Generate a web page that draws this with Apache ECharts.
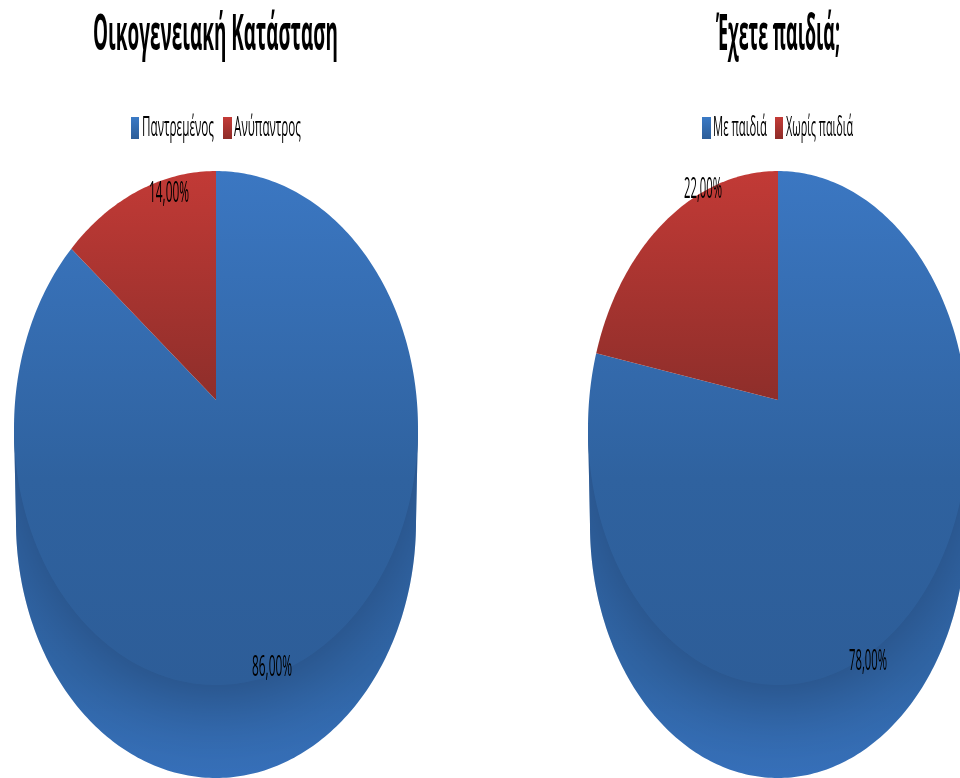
<!DOCTYPE html>
<html><head><meta charset="utf-8">
<style>html,body{margin:0;padding:0;background:#fff;overflow:hidden}#c{width:960px;height:778px}</style>
<script src="https://cdn.jsdelivr.net/npm/echarts@6/dist/echarts.min.js"></script>
</head><body><div id="c"></div>
<script>
// ---- data ----
const titles = ['Οικογενειακή Κατάσταση', 'Έχετε παιδιά;'];
const categoriesA = ['Παντρεμένος', 'Ανύπαντρος'];
const valuesA = [86, 14];
const categoriesB = ['Με παιδιά', 'Χωρίς παιδιά'];
const valuesB = [78, 22];

// ---- layout ----
const FONT = '"Open Sans"';
const layouts = [
  {cx:216, cy:428, rx:202, ry:257, apexY:400, sideCy:522, sideRx:200, sideRy:256,
   title:{x:93,w:245}, legend:[{sx:131,sw:8,tx:142,tw:72},{sx:223,sw:9,tx:234,tw:67}],
   labels:[{x:272,y:667,w:40},{x:169,y:193,w:40}]},
  {cx:778, cy:428, rx:190, ry:257, apexY:400, sideCy:525, sideRx:188, sideRy:253,
   title:{x:716,w:124}, legend:[{sx:702,sw:9,tx:713,tw:54},{sx:775,sw:8,tx:786,tw:67}],
   labels:[{x:868,y:661,w:38},{x:703,y:189,w:38}]}
];
const grad = (y0,y1,stops)=>({type:'linear',x:0,y:y0,x2:0,y2:y1,global:true,
  colorStops:stops.map(s=>({offset:s[0],color:s[1]}))});
const ctx = document.createElement('canvas').getContext('2d');
function scaleFor(text,font,w){ ctx.font=font; return w/ctx.measureText(text).width; }
function textEl(text,x,y,w,size,weight,align){
  const font=`${weight} ${size}px ${FONT}`;
  return {type:'text',x,y,scaleX:scaleFor(text,font,w),silent:true,
    style:{text,font,fill:'#000',align:align||'left',verticalAlign:'middle'}};
}
// a point on the tilted disc; the disc's centre projects to the apex
function discPoint(L,share){
  const t=share*2*Math.PI, u=Math.sin(t), v=-Math.cos(t), k=(L.apexY-L.cy)/L.ry;
  const d=1+v*k;
  return [L.cx+L.rx*u*Math.sqrt(1-k*k)/d, L.cy+L.ry*(v+k)/d];
}
function wedge(L,from,to){
  const pts=[[L.cx,L.apexY]], n=Math.max(4,Math.round((to-from)*360));
  for(let i=0;i<=n;i++) pts.push(discPoint(L,from+(to-from)*i/n));
  return pts;
}
function sidePoints(L){
  const pts=[[L.cx-L.rx,L.cy]];
  for(let i=0;i<=180;i++){
    const a=Math.PI-i*Math.PI/180;
    pts.push([L.cx+L.sideRx*Math.cos(a),L.sideCy+L.sideRy*Math.sin(a)]);
  }
  pts.push([L.cx+L.rx,L.cy]);
  return pts;
}
const BLUE=[[0,'#3b77c2'],[0.6,'#2f629f'],[1,'#2d5d98']];
const RED=[[0,'#c23a36'],[1,'#8e2e2a']];
const SIDE=[[0,'#3066a8'],[0.7,'#3168aa'],[1,'#3670ba']];

function series(idx,cats,vals){
  const L=layouts[idx];
  return {type:'custom',coordinateSystem:'none',silent:true,
    data:vals.map((v,i)=>[v,i]),
    renderItem(params,api){
      const v=api.value(0), i=api.value(1), total=vals.reduce((a,b)=>a+b,0);
      const before=vals.slice(0,i).reduce((a,b)=>a+b,0)/total, share=v/total;
      const kids=[];
      if(i===0){
        const side=sidePoints(L);
        kids.push({type:'polygon',silent:true,shape:{points:side},
          style:{fill:grad(L.cy,L.sideCy+L.sideRy,SIDE)}});
        // shadow cast by the top face on the rim
        kids.push({type:'polygon',silent:true,shape:{points:wedge(L,0,1)},
          clipPath:{type:'polygon',shape:{points:side}},
          style:{fill:'#2c5a92',shadowColor:'rgba(36,72,120,1)',shadowBlur:85,shadowOffsetY:8}});
      }
      kids.push({type:'polygon',silent:true,shape:{points:wedge(L,i===0?0:before,i===0?share:before+share)},
        style:{fill:i===0?grad(L.cy-L.ry,L.cy+L.ry,BLUE):grad(L.cy-L.ry,L.apexY,RED)}});
      return {type:'group',children:kids};
    },
    z:2};
}
function labelSeries(idx,vals){
  const L=layouts[idx];
  return {type:'custom',coordinateSystem:'none',silent:true,z:5,
    data:vals.map((v,i)=>[v,i]),
    renderItem(params,api){
      const v=api.value(0), p=L.labels[api.value(1)];
      return textEl(v.toFixed(2).replace('.',',')+'%',p.x,p.y,p.w,30,'normal','center');
    }};
}
const graphicEls=[];
[[categoriesA],[categoriesB]].forEach((c,idx)=>{
  const L=layouts[idx];
  graphicEls.push(textEl(titles[idx],L.title.x,36,L.title.w,50,'bold','left'));
  c[0].forEach((name,i)=>{
    const g=L.legend[i];
    graphicEls.push({type:'rect',shape:{x:g.sx,y:117,width:g.sw,height:22},
      style:{fill:grad(117,139,i===0?[[0,'#3b7ac6'],[1,'#2c5d98']]:[[0,'#c43b37'],[1,'#8e2c28']])}});
    graphicEls.push(textEl(name,g.tx,128,g.tw,27,'normal','left'));
  });
});
const chart=echarts.init(document.getElementById('c'),null,{renderer:'canvas'});
chart.setOption({
  animation:false,backgroundColor:'#ffffff',
  graphic:{elements:graphicEls},
  series:[series(0,categoriesA,valuesA),series(1,categoriesB,valuesB),labelSeries(0,valuesA),labelSeries(1,valuesB)]
});
</script></body></html>
